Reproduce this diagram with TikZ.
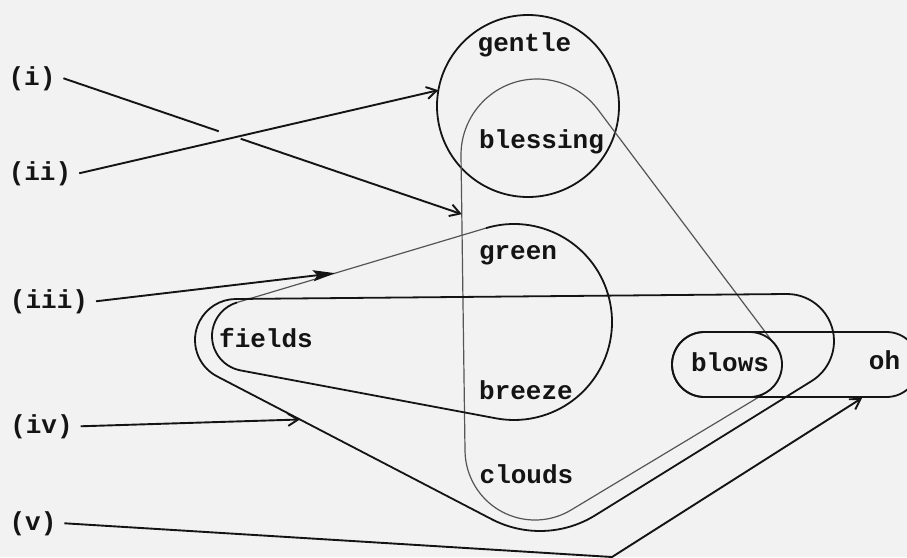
\documentclass[tikz,border=0pt]{standalone}
\usepackage{fontspec}
\setmonofont{Liberation Mono}
\usetikzlibrary{calc,arrows.meta}
\definecolor{bg}{RGB}{242,242,242}
\definecolor{ink}{RGB}{20,20,20}
\definecolor{pale}{RGB}{85,85,85}
\begin{document}
\begin{tikzpicture}[x=1pt,y=-1pt,
  word/.style={font=\ttfamily\bfseries\fontsize{26}{26}\selectfont, inner sep=0pt, anchor=base, text=ink},
  lab/.style={word, outer sep=8pt},
  hull/.style={draw=ink, line width=1.8pt},
  faint/.style={draw=pale, line width=1.2pt},
  plain/.style={draw=ink, line width=1.9pt},
  arr/.style={plain, -{Straight Barb[length=10pt,width=12pt]}},
  farr/.style={plain, -{Stealth[length=22pt,width=11pt,inset=4pt]}}
]
\useasboundingbox (0,0) rectangle (907,557);
\fill[bg] (0,0) rectangle (907,557);
\clip (0,0) rectangle (907,557);

% centres of the circles that make up the shapes
\coordinate (cg) at (528,106);
\coordinate (b1) at (537,155);
\coordinate (b2) at (750,365);
\coordinate (b3) at (535,450);
\coordinate (g1) at (247,336);
\coordinate (g2) at (514,322);
\coordinate (e1) at (236,340);
\coordinate (e2) at (787,341);
\coordinate (e3) at (540,426);

% gentle circle
\draw[hull] (cg) circle[radius=91];

% blessing / clouds / blows hull
\draw[faint] ($(b1)+(-36.9:76)$) -- ($(b2)+(-36.9:32)$)
  arc[start angle=-36.9,end angle=58.9,radius=32]
  -- ($(b3)+(58.9:70)$) arc[start angle=58.9,end angle=179.2,radius=70]
  -- ($(b1)+(179.2:76)$) arc[start angle=179.2,end angle=323.1,radius=76] -- cycle;

% green / breeze / fields hull
\coordinate (gT1) at ($(g1)+(-106.6:35)$);
\coordinate (gT2) at ($(g2)+(-106.6:98)$);
\draw[faint] (gT1) -- (gT2);
\draw[hull] (gT2) arc[start angle=-106.6,end angle=100.6,radius=98]
  -- ($(g1)+(100.6:35)$) arc[start angle=100.6,end angle=253.4,radius=35];

% fields / clouds / blows hull
\coordinate (eB3) at ($(e3)+(117.5:105)$);
\coordinate (eB1) at ($(e1)+(117.5:41)$);
\draw[hull] ($(e1)+(-90.52:41)$) -- ($(e2)+(-90.52:47)$)
  arc[start angle=-90.52,end angle=58.2,radius=47]
  -- ($(e3)+(58.2:105)$) arc[start angle=58.2,end angle=117.5,radius=105]
  -- (eB1) arc[start angle=117.5,end angle=269.48,radius=41] -- cycle;

% blows and blows-oh
\draw[hull, rounded corners=32.5pt] (672,332) rectangle (782,397);
\draw[hull, rounded corners=32.5pt] (672,332) rectangle (919,397);

% words
\node[word] (tgentle) at (524.5,51) {gentle};
\node[word] (tblessing) at (541.5,148) {blessing};
\node[word] (tgreen) at (518,259) {green};
\node[word] (tfields) at (266,347) {fields};
\node[word] (tbreeze) at (526,399) {breeze};
\node[word] (tclouds) at (526.5,483) {clouds};
\node[word] (tblows) at (730,371) {blows};
\node[word] (toh) at (884.5,369) {oh};

% labels
\node[lab] (li) at (32,85) {(i)};
\node[lab] (lii) at (40,180) {(ii)};
\node[lab] (liii) at (49,308) {(iii)};
\node[lab] (liv) at (41.5,433) {(iv)};
\node[lab] (lv) at (33,530) {(v)};

% arrow targets
\coordinate (bL1) at ($(b1)+(179.2:76)$);
\coordinate (bL3) at ($(b3)+(179.2:70)$);
\coordinate (t1) at ($(bL1)!0.197!(bL3)$);
\coordinate (t2) at ($(cg)+(190:91)$);
\coordinate (t3) at ($(gT1)!0.394!(gT2)$);
\coordinate (t4) at ($(eB1)!0.302!(eB3)$);
\coordinate (t5) at (862,398);
\coordinate (vc) at (612,557);

% arrows
\draw[plain] (li.east) -- ($(li.east)!0.39!(t1)$);
\draw[arr] ($(li.east)!0.445!(t1)$) -- (t1);
\draw[arr] (lii.east) -- (t2);
\draw[farr] (liii.east) -- (t3);
\draw[arr] (liv.east) -- (t4);
\draw[arr] (lv.east) -- (vc) -- (t5);
\end{tikzpicture}
\end{document}
